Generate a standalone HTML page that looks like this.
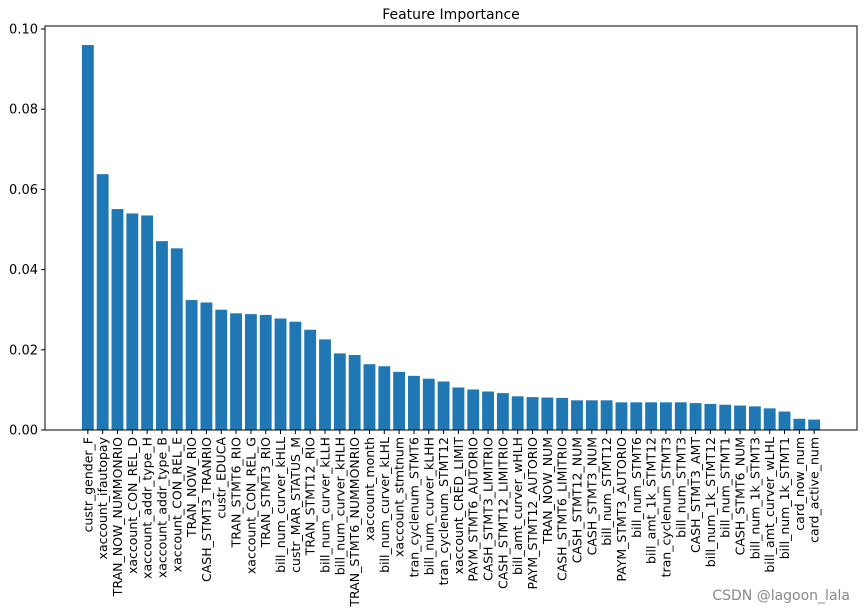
<!DOCTYPE html>
<html><head><meta charset="utf-8"><style>
html,body{margin:0;padding:0;background:#fff;}
svg{display:block;font-family:"DejaVu Sans","Liberation Sans",sans-serif;}
</style></head><body>
<svg id="chart" width="865" height="613" viewBox="0 0 865 613" xmlns="http://www.w3.org/2000/svg">
<rect width="865" height="613" fill="#fff"/>
<text x="451" y="19" text-anchor="middle" font-size="14">Feature Importance</text>
<g id="bars"></g>
<g id="yaxis"></g>
<g id="xaxis"></g>
<rect x="45" y="26" width="812" height="404" fill="none" stroke="#000" stroke-width="1"/>
<text x="850" y="600" text-anchor="end" font-size="14" fill="#888">CSDN @lagoon_lala</text>
</svg>
<script>
const categories = ["custr_gender_F","xaccount_ifautopay","TRAN_NOW_NUMMONRIO","xaccount_CON_REL_D","xaccount_addr_type_H","xaccount_addr_type_B","xaccount_CON_REL_E","TRAN_NOW_RIO","CASH_STMT3_TRANRIO","custr_EDUCA","TRAN_STMT6_RIO","xaccount_CON_REL_G","TRAN_STMT3_RIO","bill_num_curver_kHLL","custr_MAR_STATUS_M","TRAN_STMT12_RIO","bill_num_curver_kLLH","bill_num_curver_kHLH","TRAN_STMT6_NUMMONRIO","xaccount_month","bill_num_curver_kLHL","xaccount_stmtnum","tran_cyclenum_STMT6","bill_num_curver_kLHH","tran_cyclenum_STMT12","xaccount_CRED_LIMIT","PAYM_STMT6_AUTORIO","CASH_STMT3_LIMITRIO","CASH_STMT12_LIMITRIO","bill_amt_curver_wHLH","PAYM_STMT12_AUTORIO","TRAN_NOW_NUM","CASH_STMT6_LIMITRIO","CASH_STMT12_NUM","CASH_STMT3_NUM","bill_num_STMT12","PAYM_STMT3_AUTORIO","bill_num_STMT6","bill_amt_1k_STMT12","tran_cyclenum_STMT3","bill_num_STMT3","CASH_STMT3_AMT","bill_num_1k_STMT12","bill_num_STMT1","CASH_STMT6_NUM","bill_num_1k_STMT3","bill_amt_curver_wLHL","bill_num_1k_STMT1","card_now_num","card_active_num"];
const importance = [0.0960,0.0638,0.0551,0.0540,0.0535,0.0471,0.0453,0.0324,0.0318,0.0300,0.0291,0.0289,0.0287,0.0278,0.0270,0.0250,0.0226,0.0191,0.0187,0.0164,0.0159,0.0145,0.0135,0.0128,0.0121,0.0106,0.0101,0.0096,0.0092,0.0084,0.0082,0.0081,0.0080,0.0074,0.0074,0.0074,0.0069,0.0069,0.0069,0.0069,0.0069,0.0067,0.0065,0.0063,0.0061,0.0059,0.0054,0.0046,0.0028,0.0026];
const yTicks = [0.00,0.02,0.04,0.06,0.08,0.10];
const yTickLabels = ["0.00","0.02","0.04","0.06","0.08","0.10"];

const NS = "http://www.w3.org/2000/svg";
const plotL = 45, plotR = 857, plotTop = 26, plotBot = 430;
const yMin = 0, yMax = 0.1, yPixTop = 29;
function yScale(v){ return plotBot - (v - yMin) / (yMax - yMin) * (plotBot - yPixTop); }
const n = categories.length;
const xlo = -0.4 - 0.05 * (n - 1 + 0.8), xhi = n - 1 + 0.4 + 0.05 * (n - 1 + 0.8);
function xScale(i){ return plotL + (i - xlo) / (xhi - xlo) * (plotR - plotL); }
const step = (plotR - plotL) / (xhi - xlo);

const barsG = document.getElementById('bars');
const xG = document.getElementById('xaxis');
const yG = document.getElementById('yaxis');

importance.forEach((v, i) => {
  const r = document.createElementNS(NS, 'rect');
  
  
  const cx = xScale(i), w = step * 0.8;
  r.setAttribute('x', cx - w / 2);
  r.setAttribute('width', w);
  r.setAttribute('y', yScale(v));
  r.setAttribute('height', yScale(0) - yScale(v));
  r.setAttribute('fill', '#1f77b4');
  barsG.appendChild(r);
});

categories.forEach((c, i) => {
  const cx = xScale(i);
  const t = document.createElementNS(NS, 'line');
  
  
  t.setAttribute('x1', cx); t.setAttribute('x2', cx);
  t.setAttribute('y1', plotBot); t.setAttribute('y2', plotBot + 4);
  t.setAttribute('stroke', '#000');
  xG.appendChild(t);
  const lab = document.createElementNS(NS, 'text');
  
  
  lab.setAttribute('transform', 'translate(' + (cx + 4.5) + ',' + (plotBot + 7) + ') rotate(-90)');
  lab.setAttribute('text-anchor', 'end');
  lab.setAttribute('font-size', '12.5');
  lab.textContent = c;
  xG.appendChild(lab);
});

yTicks.forEach((v, i) => {
  const y = yScale(v);
  const t = document.createElementNS(NS, 'line');
  
  
  t.setAttribute('x1', plotL - 4); t.setAttribute('x2', plotL);
  t.setAttribute('y1', y); t.setAttribute('y2', y);
  t.setAttribute('stroke', '#000');
  yG.appendChild(t);
  const lab = document.createElementNS(NS, 'text');
  
  
  lab.setAttribute('x', plotL - 7);
  lab.setAttribute('y', y + 4.5);
  lab.setAttribute('text-anchor', 'end');
  lab.setAttribute('font-size', '13');
  lab.textContent = yTickLabels[i];
  yG.appendChild(lab);
});
</script>
</body></html>
